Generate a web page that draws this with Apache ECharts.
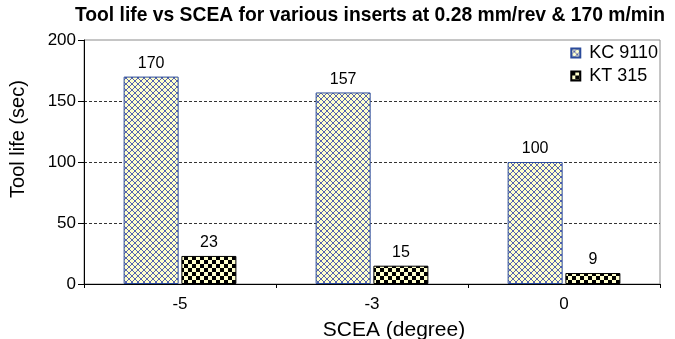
<!DOCTYPE html>
<html>
<head>
<meta charset="utf-8">
<script src="https://cdn.jsdelivr.net/npm/echarts@6/dist/echarts.min.js"></script>
<style>
html,body{margin:0;padding:0;background:#fff;}
#chart{width:675px;height:339px;}
</style>
</head>
<body>
<div id="chart"></div>
<script>
var titleText = 'Tool life vs SCEA for various inserts at 0.28 mm/rev & 170 m/min';
var categories = ['-5', '-3', '0'];
var seriesNames = ['KC 9110', 'KT 315'];
var kc9110 = [170, 157, 100];
var kt315 = [23, 15, 9];
var yTicks = { min: 0, max: 200, interval: 50 };
var xName = 'SCEA (degree)';
var yName = 'Tool life (sec)';

function hatchPattern() {
  var c = document.createElement('canvas');
  c.width = 6; c.height = 6;
  var g = c.getContext('2d');
  g.fillStyle = '#ffffcc';
  g.fillRect(0, 0, 6, 6);
  g.fillStyle = '#5563b0';
  for (var i = 0; i < 6; i++) {
    g.fillRect(i, i, 1, 1);
    g.fillRect(i, 5 - i, 1, 1);
  }
  return c;
}
function checkerPattern() {
  var c = document.createElement('canvas');
  c.width = 8; c.height = 8;
  var g = c.getContext('2d');
  g.fillStyle = '#ffffcc';
  g.fillRect(0, 0, 8, 8);
  g.fillStyle = '#000000';
  g.fillRect(0, 0, 4, 4);
  g.fillRect(4, 4, 4, 4);
  return c;
}

var FONT = "'Liberation Sans', Arial, sans-serif";
var chart = echarts.init(document.getElementById('chart'), null, { renderer: 'canvas' });
chart.setOption({
  animation: false,
  backgroundColor: '#ffffff',
  title: {
    text: titleText,
    left: 370,
    top: 6,
    padding: 0,
    textAlign: 'center',
    textStyle: { fontFamily: FONT, fontSize: 19.3, fontWeight: 'bold', color: '#000' }
  },
  legend: {
    orient: 'vertical',
    right: 17,
    top: 44,
    padding: 0,
    itemWidth: 9,
    itemHeight: 9,
    itemGap: 5,
    icon: 'rect',
    textStyle: { fontFamily: FONT, fontSize: 18, color: '#000', padding: [0, 0, 0, 4] },
    data: seriesNames
  },
  grid: {
    left: 84, right: 15, top: 40, bottom: 55,
    containLabel: false,
    outerBoundsMode: 'none',
    show: true, borderColor: '#8c8c8c', borderWidth: 1, backgroundColor: 'transparent'
  },
  xAxis: {
    type: 'category',
    data: categories,
    name: xName,
    nameLocation: 'middle',
    nameGap: 36,
    nameTextStyle: { fontFamily: FONT, fontSize: 21, color: '#000', padding: [0, 0, 0, 44] },
    axisLine: { show: true, lineStyle: { color: '#000', width: 1 } },
    axisTick: { show: true, length: 4, alignWithLabel: false, lineStyle: { color: '#000' } },
    axisLabel: { margin: 12, fontFamily: FONT, fontSize: 17, color: '#000' },
    splitLine: { show: false }
  },
  yAxis: {
    type: 'value',
    min: yTicks.min, max: yTicks.max, interval: yTicks.interval,
    name: yName,
    nameLocation: 'middle',
    nameGap: 56,
    nameTextStyle: { fontFamily: FONT, fontSize: 20, color: '#000', padding: [0, 0, 0, 46] },
    axisLine: { show: true, lineStyle: { color: '#000', width: 1 } },
    axisTick: { show: true, length: 6, lineStyle: { color: '#000' } },
    axisLabel: { margin: 8, fontFamily: FONT, fontSize: 17, color: '#000' },
    splitLine: { show: true, lineStyle: { color: ['#333', '#333', '#333', '#333', 'rgba(0,0,0,0)'], type: [3, 2], width: 1 } }
  },
  series: [
    {
      name: seriesNames[0],
      type: 'bar',
      data: kc9110,
      barWidth: 55,
      barGap: '5%',
      itemStyle: { color: { image: hatchPattern(), repeat: 'repeat' }, borderColor: '#2a4a9a', borderWidth: 1 },
      label: { show: true, position: 'top', distance: 5, fontFamily: FONT, fontSize: 16, color: '#000' }
    },
    {
      name: seriesNames[1],
      type: 'bar',
      data: kt315,
      barWidth: 55,
      itemStyle: { color: { image: checkerPattern(), repeat: 'repeat' }, borderColor: '#000', borderWidth: 1 },
      label: { show: true, position: 'top', distance: 5, fontFamily: FONT, fontSize: 16, color: '#000' }
    }
  ]
});
</script>
</body>
</html>
